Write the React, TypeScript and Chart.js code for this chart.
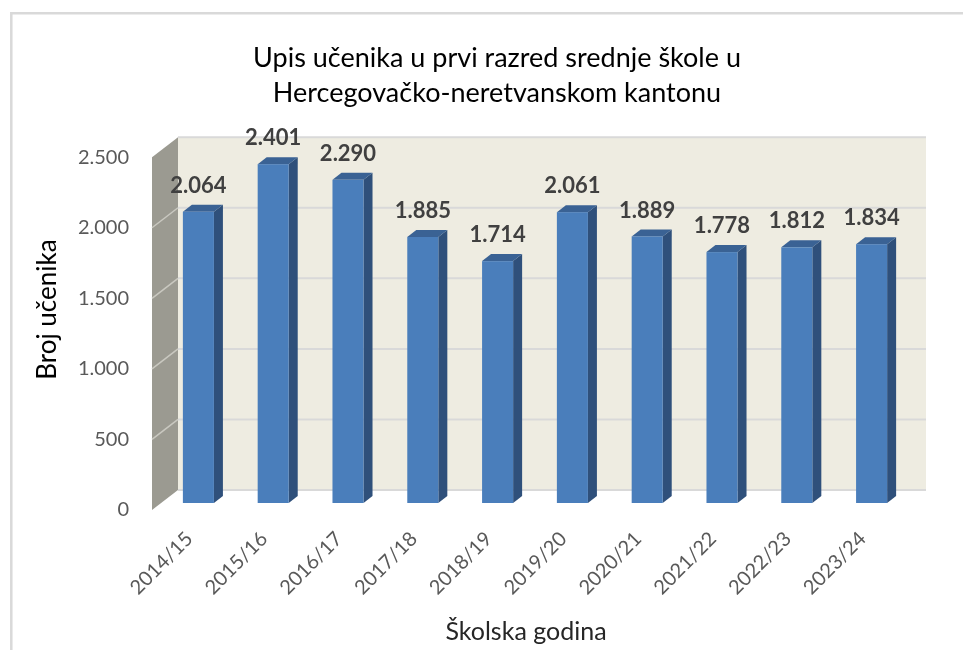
import React, { useEffect, useRef } from 'react';
import { Chart, registerables } from 'chart.js';

Chart.register(...registerables);

const categories = ['2014/15', '2015/16', '2016/17', '2017/18', '2018/19', '2019/20', '2020/21', '2021/22', '2022/23', '2023/24'];
const enrolments = [2064, 2401, 2290, 1885, 1714, 2061, 1889, 1778, 1812, 1834];
const yMin = 0;
const yMax = 2500;
const yStep = 500;
const titleLines = ['Upis učenika u prvi razred srednje škole u', 'Hercegovačko-neretvanskom kantonu'];
const xTitle = 'Školska godina';
const yTitle = 'Broj učenika';

const fmt = (v: number) => String(v).replace(/\B(?=(\d{3})+(?!\d))/g, '.');

// 3D geometry (pixels)
const WALL = { dx: 26, dy: -20 };
const BAR_PLANE = { dx: 9, dy: -7 };
const BAR_DEPTH = { dx: 9, dy: -7 };

const COLORS = {
  border: '#d9d9d9',
  backWall: '#eeece1',
  sideWall: '#9b9a91',
  grid: '#d9d9d9',
  sideGrid: '#c9c8c0',
  barFront: '#4a7ebb',
  barSide: '#2f507b',
  barTop: '#3a6294',
  label: '#404040',
  tick: '#595959',
};

const poly = (ctx: CanvasRenderingContext2D, pts: number[][], fill: string) => {
  ctx.beginPath();
  ctx.moveTo(pts[0][0], pts[0][1]);
  for (let i = 1; i < pts.length; i++) ctx.lineTo(pts[i][0], pts[i][1]);
  ctx.closePath();
  ctx.fillStyle = fill;
  ctx.fill();
};

const threeD = {
  id: 'threeD',
  beforeDraw(chart: any) {
    const ctx = chart.ctx as CanvasRenderingContext2D;
    ctx.save();
    ctx.strokeStyle = COLORS.border;
    ctx.lineWidth = 2.5;
    ctx.beginPath();
    ctx.moveTo(11.3, chart.height);
    ctx.lineTo(11.3, 13.3);
    ctx.lineTo(chart.width, 13.3);
    ctx.stroke();
    ctx.restore();
  },
  beforeDatasetsDraw(chart: any) {
    const ctx = chart.ctx as CanvasRenderingContext2D;
    const { left, right } = chart.chartArea;
    const y = chart.scales.y;
    const top = y.getPixelForValue(yMax);
    const bottom = y.getPixelForValue(yMin);
    ctx.save();
    // back wall
    poly(ctx, [
      [left + WALL.dx, top + WALL.dy],
      [right + WALL.dx, top + WALL.dy],
      [right + WALL.dx, bottom + WALL.dy],
      [left + WALL.dx, bottom + WALL.dy],
    ], COLORS.backWall);
    // side wall
    poly(ctx, [
      [left, top],
      [left + WALL.dx, top + WALL.dy],
      [left + WALL.dx, bottom + WALL.dy],
      [left, bottom],
    ], COLORS.sideWall);
    // grid lines
    y.ticks.forEach((t: any) => {
      const py = y.getPixelForValue(t.value);
      ctx.strokeStyle = COLORS.grid;
      ctx.lineWidth = 2;
      ctx.beginPath();
      ctx.moveTo(left + WALL.dx, py + WALL.dy);
      ctx.lineTo(right + WALL.dx, py + WALL.dy);
      ctx.stroke();
      if (t.value !== yMax && t.value !== yMin) {
        ctx.strokeStyle = COLORS.sideGrid;
        ctx.lineWidth = 1.5;
        ctx.beginPath();
        ctx.moveTo(left, py);
        ctx.lineTo(left + WALL.dx, py + WALL.dy);
        ctx.stroke();
      }
    });
    ctx.restore();
  },
  afterDatasetsDraw(chart: any) {
    const ctx = chart.ctx as CanvasRenderingContext2D;
    const meta = chart.getDatasetMeta(0);
    const values = chart.data.datasets[0].data as number[];
    ctx.save();
    meta.data.forEach((el: any, i: number) => {
      const w = el.width;
      const x0 = el.x - w / 2 + BAR_PLANE.dx;
      const x1 = el.x + w / 2 + BAR_PLANE.dx;
      const yt = el.y + BAR_PLANE.dy;
      const yb = el.base + BAR_PLANE.dy;
      // side
      poly(ctx, [
        [x1, yt],
        [x1 + BAR_DEPTH.dx, yt + BAR_DEPTH.dy],
        [x1 + BAR_DEPTH.dx, yb + BAR_DEPTH.dy],
        [x1, yb],
      ], COLORS.barSide);
      // top
      poly(ctx, [
        [x0, yt],
        [x0 + BAR_DEPTH.dx, yt + BAR_DEPTH.dy],
        [x1 + BAR_DEPTH.dx, yt + BAR_DEPTH.dy],
        [x1, yt],
      ], COLORS.barTop);
      // front
      ctx.fillStyle = COLORS.barFront;
      ctx.fillRect(x0, yt, w, yb - yt);
      // label
      ctx.fillStyle = COLORS.label;
      ctx.font = 'bold 22px Lato';
      ctx.textAlign = 'center';
      ctx.textBaseline = 'middle';
      ctx.fillText(fmt(values[i]), (x0 + x1) / 2, yt - 26);
    });
    ctx.restore();
  },
  afterDraw(chart: any) {
    // y axis title, centred on the 3D plot as in the original
    const ctx = chart.ctx as CanvasRenderingContext2D;
    const y = chart.scales.y;
    const mid = (y.getPixelForValue(yMax) + WALL.dy + y.getPixelForValue(yMin)) / 2 - 14;
    ctx.save();
    ctx.translate(48, mid);
    ctx.rotate(-Math.PI / 2);
    ctx.fillStyle = '#000000';
    ctx.font = '26px Lato';
    ctx.textAlign = 'center';
    ctx.textBaseline = 'middle';
    ctx.fillText(yTitle, 0, 0);
    ctx.restore();
  },
};

export default function App() {
  const ref = useRef<HTMLCanvasElement | null>(null);
  useEffect(() => {
    document.body.style.margin = '0';
    const chart = new Chart(ref.current as HTMLCanvasElement, {
      type: 'bar',
      data: {
        labels: categories,
        datasets: [
          {
            data: enrolments,
            backgroundColor: 'rgba(0,0,0,0)',
            borderWidth: 0,
            categoryPercentage: 1,
            barPercentage: 0.415,
            yAxisID: 'y',
          },
        ],
      },
      options: {
        animation: false,
        responsive: true,
        maintainAspectRatio: false,
        layout: { padding: { left: 31, right: 0 } },
        plugins: {
          legend: { display: false },
          tooltip: { enabled: false },
          title: {
            display: true,
            text: titleLines,
            color: '#000000',
            font: { family: 'Lato', size: 27, weight: 'normal', lineHeight: 1.3 },
            padding: { top: 40.5, bottom: 46.5 },
          },
        },
        scales: {
          x: {
            type: 'category',
            grid: { display: false, drawTicks: false },
            border: { display: false },
            ticks: {
              color: COLORS.tick,
              font: { family: 'Lato', size: 20 },
              maxRotation: 45,
              minRotation: 45,
              padding: 17,
            },
            title: {
              display: true,
              text: xTitle,
              color: '#262626',
              font: { family: 'Lato', size: 25 },
              padding: { top: 0, bottom: 3 },
            },
            afterFit: (s: any) => {
              s.height = 140;
            },
          },
          y: {
            min: yMin,
            max: yMax,
            grid: { display: false, drawTicks: false },
            border: { display: false },
            ticks: {
              stepSize: yStep,
              color: COLORS.tick,
              font: { family: 'Lato', size: 20 },
              padding: 23,
              callback: (v: any) => fmt(Number(v)),
            },
            afterFit: (s: any) => {
              s.width = 121;
            },
          },
          depthRoom: {
            type: 'linear',
            position: 'right',
            display: true,
            grid: { display: false, drawTicks: false },
            border: { display: false },
            ticks: { display: false },
            afterFit: (s: any) => {
              s.width = 63;
            },
          },
        },
      },
      plugins: [threeD],
    } as any);
    return () => chart.destroy();
  }, []);
  return (
    <div style={{ position: 'absolute', left: 0, top: 0, width: 963, height: 650 }}>
      <canvas ref={ref} />
    </div>
  );
}
